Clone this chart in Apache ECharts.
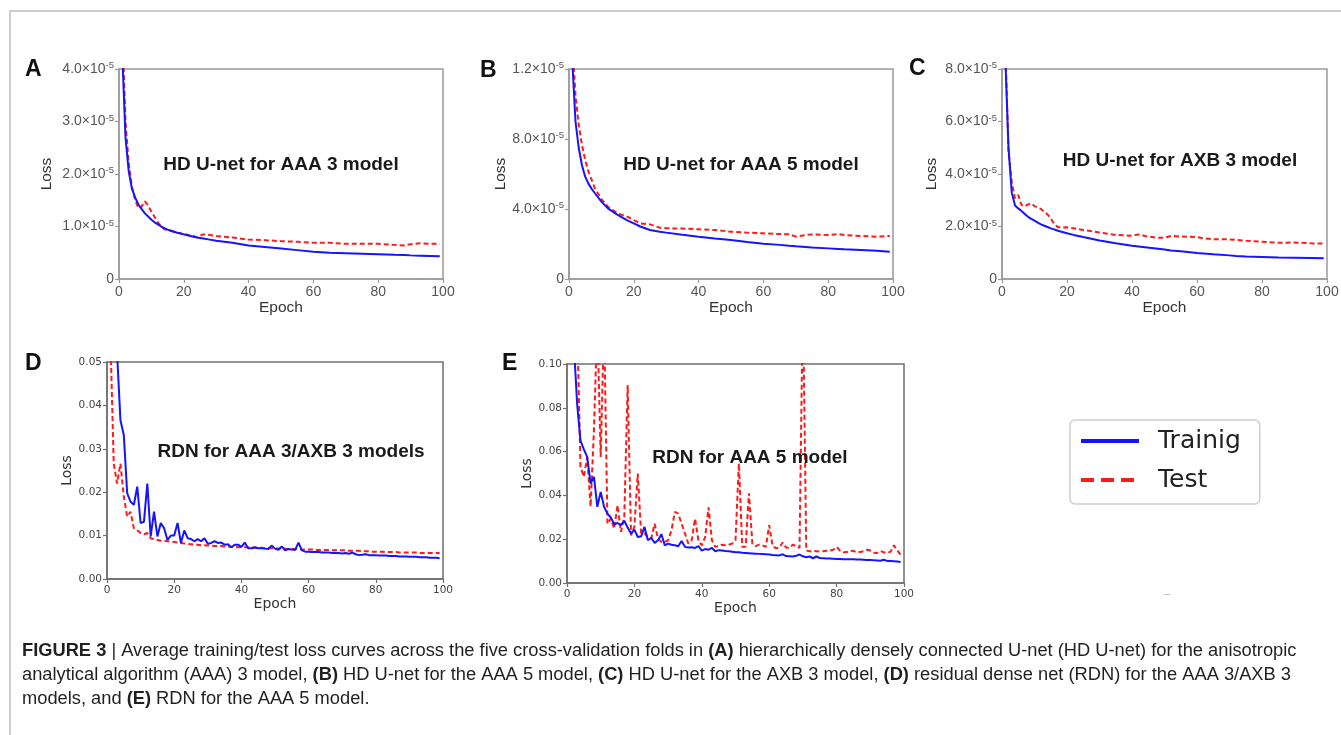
<!DOCTYPE html>
<html><head><meta charset="utf-8">
<script src="https://cdn.jsdelivr.net/npm/echarts/dist/echarts.min.js"></script>
<style>html,body{margin:0;padding:0;background:#fff}#c{width:1341px;height:735px}</style>
</head><body><div id="c"></div>
<script>
// ---------- DATA ----------
// Panels A-C: loss in units of 1e-5
const epochsA = [1,2,3,4,5,6,7,8,9,10,11,12,13,14,15,16,18,20,22,24,26,28,30,35,40,45,50,55,60,65,70,75,80,85,88,90,93,96,99];
const trainA = [4.3,2.7,2.05,1.72,1.55,1.42,1.33,1.25,1.19,1.13,1.08,1.04,1.0,0.97,0.94,0.92,0.88,0.85,0.82,0.79,0.77,0.75,0.73,0.69,0.64,0.61,0.58,0.55,0.52,0.5,0.49,0.48,0.47,0.46,0.455,0.45,0.445,0.44,0.435];
const testA  = [4.8,3.0,2.2,1.75,1.5,1.35,1.38,1.48,1.4,1.28,1.18,1.08,1.0,0.95,0.92,0.92,0.88,0.86,0.83,0.8,0.85,0.84,0.82,0.79,0.75,0.74,0.72,0.71,0.69,0.69,0.67,0.67,0.67,0.65,0.64,0.66,0.68,0.67,0.67];

const epochsB = [1,2,3,4,5,6,7,8,10,12,15,18,20,22,25,28,30,35,40,45,50,55,60,65,68,70,73,75,80,83,85,90,95,99];
const trainB = [12.5,9.0,7.5,6.5,5.85,5.45,5.15,4.9,4.42,4.04,3.66,3.35,3.18,3.0,2.8,2.7,2.65,2.53,2.42,2.32,2.23,2.12,2.02,1.95,1.9,1.87,1.83,1.8,1.75,1.72,1.7,1.66,1.61,1.56];
const testB  = [13.5,10.5,8.8,7.66,6.8,6.13,5.66,5.18,4.57,4.13,3.75,3.56,3.37,3.18,3.12,2.93,2.9,2.88,2.84,2.8,2.7,2.65,2.61,2.57,2.55,2.42,2.51,2.55,2.51,2.57,2.51,2.46,2.42,2.46];

const epochsC = [1,2,3,4,5,6,7,8,9,10,11,12,13,14,15,16,17,18,20,22,25,30,35,40,42,44,48,50,52,55,60,62,65,70,72,75,80,85,90,95,99];
const trainC = [8.5,5.0,3.3,2.8,2.69,2.59,2.48,2.37,2.29,2.22,2.15,2.08,2.03,1.98,1.93,1.89,1.85,1.81,1.74,1.68,1.6,1.47,1.36,1.27,1.24,1.21,1.15,1.12,1.09,1.06,0.99,0.97,0.94,0.9,0.88,0.86,0.84,0.82,0.81,0.8,0.79];
const testC  = [9.0,4.85,3.7,3.07,3.2,2.82,2.76,2.84,2.88,2.78,2.72,2.67,2.56,2.46,2.31,2.12,1.99,1.96,1.97,1.93,1.87,1.77,1.68,1.65,1.7,1.64,1.57,1.57,1.64,1.62,1.6,1.55,1.51,1.51,1.49,1.46,1.42,1.38,1.39,1.36,1.35];

// Panels D-E: one value per epoch, epochs 1..99
const epochsDE = [1,2,3,4,5,6,7,8,9,10,11,12,13,14,15,16,17,18,19,20,21,22,23,24,25,26,27,28,29,30,31,32,33,34,35,36,37,38,39,40,41,42,43,44,45,46,47,48,49,50,51,52,53,54,55,56,57,58,59,60,61,62,63,64,65,66,67,68,69,70,71,72,73,74,75,76,77,78,79,80,81,82,83,84,85,86,87,88,89,90,91,92,93,94,95,96,97,98,99];
const trainD = [0.09,0.07,0.052,0.0366,0.0332,0.0198,0.0178,0.0171,0.0213,0.0129,
0.0132,0.022,0.0098,0.0155,0.0098,0.0129,0.0117,0.009,0.0100,0.0100,
0.0129,0.0083,0.0112,0.0094,0.0092,0.0087,0.0092,0.0087,0.0094,0.0081,
0.0083,0.0087,0.0083,0.0084,0.0079,0.0080,0.0073,0.0079,0.0079,0.0074,
0.0084,0.0071,0.0071,0.0073,0.0071,0.0071,0.0070,0.0069,0.0077,0.0070,
0.0067,0.0075,0.0066,0.0069,0.0068,0.0067,0.0084,0.0066,0.0063,0.0063,
0.0062,0.0062,0.0062,0.0061,0.0061,0.0061,0.0060,0.0060,0.0060,0.0059,
0.0060,0.0058,0.0061,0.0057,0.0055,0.0056,0.0057,0.0055,0.0055,0.0055,
0.0054,0.0054,0.0054,0.0053,0.0053,0.0053,0.0052,0.0052,0.0052,0.0051,
0.0051,0.0051,0.0050,0.0050,0.0050,0.0049,0.0049,0.0049,0.0048];
const testD = [0.056,0.0266,0.022,0.0266,0.019,0.0144,0.0155,0.0117,0.0112,0.0106,
0.0103,0.0106,0.0094,0.0092,0.0090,0.0088,0.0088,0.0087,0.0086,0.0085,
0.0084,0.0083,0.0082,0.0081,0.0080,0.0079,0.0079,0.0078,0.0078,0.0077,
0.0077,0.0076,0.0076,0.0076,0.0075,0.0075,0.0074,0.0074,0.0073,0.0073,
0.0073,0.0073,0.0072,0.0072,0.0072,0.0072,0.0071,0.0071,0.0071,0.0071,
0.0070,0.0070,0.0070,0.0069,0.0069,0.0069,0.0069,0.0068,0.0068,0.0068,
0.0068,0.0067,0.0067,0.0067,0.0067,0.0067,0.0066,0.0066,0.0066,0.0066,
0.0066,0.0065,0.0065,0.0065,0.0065,0.0064,0.0064,0.0064,0.0063,0.0063,
0.0063,0.0063,0.0062,0.0062,0.0062,0.0062,0.0061,0.0061,0.0061,0.0061,
0.0061,0.0061,0.0060,0.0060,0.0060,0.0060,0.0060,0.0060,0.0060];
const trainE = [0.13,0.11,0.082,0.065,0.061,0.0576,0.0454,0.0485,0.0348,0.0416,
0.0348,0.0317,0.0299,0.0268,0.0274,0.0264,0.0284,0.0253,0.0226,0.0244,
0.0210,0.0213,0.0256,0.0195,0.0207,0.0183,0.0195,0.0223,0.0172,0.0180,
0.0175,0.0172,0.0168,0.0192,0.0165,0.0162,0.0163,0.0160,0.0168,0.0148,
0.0155,0.0152,0.0160,0.0145,0.0150,0.0148,0.0146,0.0145,0.0143,0.0140,
0.0140,0.0138,0.0137,0.0136,0.0135,0.0134,0.0133,0.0132,0.0131,0.0130,
0.0128,0.0127,0.0126,0.0131,0.0123,0.0122,0.0121,0.0124,0.0130,0.0122,
0.0118,0.0121,0.0113,0.0121,0.0114,0.0113,0.0112,0.0112,0.0111,0.0110,
0.0110,0.0109,0.0109,0.0108,0.0108,0.0107,0.0107,0.0106,0.0105,0.0105,
0.0104,0.0103,0.0102,0.0106,0.0101,0.0100,0.0099,0.0098,0.0096];
const testE = [0.15,0.14,0.12,0.053,0.0485,0.0576,0.0348,0.070,0.12,0.0576,
0.12,0.027,0.0294,0.0248,0.0355,0.0233,0.0302,0.0904,0.0218,0.0256,
0.050,0.0226,0.0226,0.021,0.0203,0.0271,0.0203,0.0187,0.0187,0.0195,
0.024,0.0325,0.0317,0.0271,0.0226,0.018,0.0195,0.0294,0.0195,0.0172,
0.021,0.0345,0.0195,0.0165,0.0168,0.0175,0.0172,0.0175,0.018,0.0195,
0.0546,0.0165,0.0165,0.041,0.018,0.0168,0.0175,0.0172,0.0165,0.0264,
0.017,0.0158,0.0162,0.0185,0.0162,0.016,0.0175,0.0168,0.016,0.13,
0.0148,0.0145,0.0146,0.0145,0.0144,0.0145,0.0147,0.0148,0.0152,0.0165,
0.0148,0.0140,0.0141,0.0148,0.0146,0.0141,0.0142,0.0145,0.0152,0.0148,
0.0138,0.0137,0.0146,0.0140,0.0136,0.0143,0.0172,0.0150,0.0128];

// tick labels
const yTicksA = [0,1,2,3,4],   yLabelsA = ['0','1.0','2.0','3.0','4.0'];
const yTicksB = [0,4,8,12],    yLabelsB = ['0','4.0','8.0','1.2'];
const yTicksC = [0,2,4,6,8],   yLabelsC = ['0','2.0','4.0','6.0','8.0'];
const expLabel = '-5';
const panelTitles = ['HD U-net for AAA 3 model','HD U-net for AAA 5 model','HD U-net for AXB 3 model','RDN for AAA 3/AXB 3 models','RDN for AAA 5 model'];
const panelLetters = ['A','B','C','D','E'];
const seriesNames = ['Trainig','Test'];

// ---------- CHART ----------
const chart = echarts.init(document.getElementById('c'), null, {renderer:'canvas'});
const BLUE = '#1414ff', RED = '#ff1a1a';

const gridsPx = [
  {left:119, top:69, width:324, height:210},
  {left:569, top:69, width:324, height:210},
  {left:1002, top:69, width:325, height:210},
  {left:107, top:362, width:336, height:217},
  {left:567, top:364, width:337, height:219}
];
const grids = gridsPx.map((g,i)=>Object.assign({show:true, borderColor: i<3?'#9a9a9a':'#6f6f6f', borderWidth:1.5, backgroundColor:'transparent', containLabel:false, outerBoundsMode:'none'}, g));

function sciFormatter(ticks, labels){
  return function(v){
    const k = ticks.findIndex(t => Math.abs(t - v) < 1e-9);
    if (k < 0) return '';
    const l = labels[k];
    return l === '0' ? '{m|0}' : '{m|' + l + '×10}{s|' + expLabel + '}';
  };
}
const sciRich = {m:{fontSize:14, fontFamily:'Liberation Sans', color:'#555', lineHeight:17}, s:{fontSize:9.5, fontFamily:'Liberation Sans', color:'#555', lineHeight:10, verticalAlign:'top'}};

function xAxis(i){
  const small = i>=3;
  return {
    type:'value', gridIndex:i, min:0, max:100, interval:20,
    name:'Epoch', nameLocation:'middle', nameGap: small?18:17,
    nameTextStyle:{fontFamily: small?'DejaVu Sans':'Liberation Sans', fontSize: small?14:15.5, color:'#333'},
    axisLine:{show:true, lineStyle:{color: small?'#6f6f6f':'#9a9a9a', width:1.5}},
    axisTick:{show:true, length:4, lineStyle:{color: small?'#6f6f6f':'#9a9a9a', width:1.2}},
    axisLabel:{margin:6, fontFamily: small?'DejaVu Sans':'Liberation Sans', fontSize: small?10.5:14, color: small?'#444':'#555'},
    splitLine:{show:false}
  };
}
const yCfg = [
  {max:4, interval:1, fmt:sciFormatter(yTicksA,yLabelsA), gap:64},
  {max:12, interval:4, fmt:sciFormatter(yTicksB,yLabelsB), gap:57},
  {max:8, interval:2, fmt:sciFormatter(yTicksC,yLabelsC), gap:62},
  {max:0.05, interval:0.01, fmt:v=>v.toFixed(2), gap:33},
  {max:0.10, interval:0.02, fmt:v=>v.toFixed(2), gap:29}
];
function yAxis(i){
  const small = i>=3, c = yCfg[i];
  return {
    type:'value', gridIndex:i, min:0, max:c.max, interval:c.interval,
    name:'Loss', nameLocation:'middle', nameGap:c.gap, nameRotate:90,
    nameTextStyle:{fontFamily: small?'DejaVu Sans':'Liberation Sans', fontSize: small?14:15.5, color:'#333'},
    axisLine:{show:true, lineStyle:{color: small?'#6f6f6f':'#9a9a9a', width:1.5}},
    axisTick:{show:true, length:4, lineStyle:{color: small?'#6f6f6f':'#9a9a9a', width:1.2}},
    axisLabel:{margin:5, formatter:c.fmt, rich: small?undefined:sciRich, fontFamily: small?'DejaVu Sans':'Liberation Sans', fontSize: small?10.5:14, color: small?'#444':'#555'},
    splitLine:{show:false}
  };
}
const panels = [
  [epochsA, trainA, testA],
  [epochsB, trainB, testB],
  [epochsC, trainC, testC],
  [epochsDE, trainD, testD],
  [epochsDE, trainE, testE]
];
const series = [];
panels.forEach((p,i)=>{
  const [ep, tr, te] = p;
  series.push({type:'line', name:seriesNames[0], xAxisIndex:i, yAxisIndex:i, symbol:'none', clip:true,
    data: ep.map((e,k)=>[e, tr[k]]), lineStyle:{color:BLUE, width:2}, itemStyle:{color:BLUE}, z:3});
  series.push({type:'line', name:seriesNames[1], xAxisIndex:i, yAxisIndex:i, symbol:'none', clip:true,
    data: ep.map((e,k)=>[e, te[k]]), lineStyle:{color:RED, width:2, type:[5,3]}, itemStyle:{color:RED}, z:2});
});

const letterPos = [[25,70],[480,71],[909,69],[25,364],[502,364]];
const titlePos = [[281,165],[741,165],[1180,161],[291,452],[750,458]];
const graphics = [
  {type:'polyline', shape:{points:[[10,735],[10,11],[1341,11]]}, style:{stroke:'#bdbdbd', lineWidth:1.5, fill:null}, silent:true},
  {type:'text', x:1167, y:594, style:{text:'–', fill:'#aaa', fontSize:10, align:'center', verticalAlign:'middle'}}
];
panelLetters.forEach((t,i)=>graphics.push({type:'text', x:letterPos[i][0], y:letterPos[i][1],
  style:{text:t, fontFamily:'Liberation Sans', fontWeight:'bold', fontSize:23, fill:'#111', align:'left', verticalAlign:'middle'}}));
panelTitles.forEach((t,i)=>graphics.push({type:'text', x:titlePos[i][0], y:titlePos[i][1], z:10,
  style:{text:t, fontFamily:'Liberation Sans', fontWeight:'bold', fontSize:19, fill:'#1a1a1a', align:'center', verticalAlign:'middle'}}));

const CAP = 18.3;
const capRich = {
  n:{fontFamily:'Liberation Sans', fontSize:CAP, color:'#231f20'},
  b:{fontFamily:'Liberation Sans', fontSize:CAP, fontWeight:'bold', color:'#231f20'},
  g:{fontFamily:'Liberation Sans', fontSize:CAP, color:'#999'}
};
const captionLines = [
  '{b|FIGURE 3} {g||} {n|Average training/test loss curves across the five cross-validation folds in }{b|(A)}{n| hierarchically densely connected U-net (HD U-net) for the anisotropic}',
  '{n|analytical algorithm (AAA) 3 model, }{b|(B)}{n| HD U-net for the AAA 5 model, }{b|(C)}{n| HD U-net for the AXB 3 model, }{b|(D)}{n| residual dense net (RDN) for the AAA 3/AXB 3}',
  '{n|models, and }{b|(E)}{n| RDN for the AAA 5 model.}'
];
const capY = [651, 675, 699];
captionLines.forEach((t,i)=>graphics.push({type:'text', x:22, y:capY[i],
  style:{text:t, rich:capRich, fontFamily:'Liberation Sans', fontSize:CAP, fill:'#231f20', align:'left', verticalAlign:'middle'}}));

chart.setOption({
  animation:false,
  backgroundColor:'#fff',
  grid: grids,
  xAxis: [0,1,2,3,4].map(xAxis),
  yAxis: [0,1,2,3,4].map(yAxis),
  series: series,
  legend: {
    data:[{name:'Trainig'},{name:'Test', lineStyle:{type:[13,7]}}],
    orient:'vertical', left:1070, top:420, itemWidth:58, itemHeight:14, itemGap:9,
    padding:[6,19,9,9], borderColor:'#cfcfcf', borderWidth:1.5, borderRadius:5, backgroundColor:'#fff',
    selectedMode:false,
    itemStyle:{opacity:0, color:'transparent', borderWidth:0},
    lineStyle:{width:4},
    textStyle:{fontFamily:'DejaVu Sans', fontSize:25, color:'#222', lineHeight:30, padding:[0,0,0,14]}
  },
  graphic: graphics
});
</script></body></html>
